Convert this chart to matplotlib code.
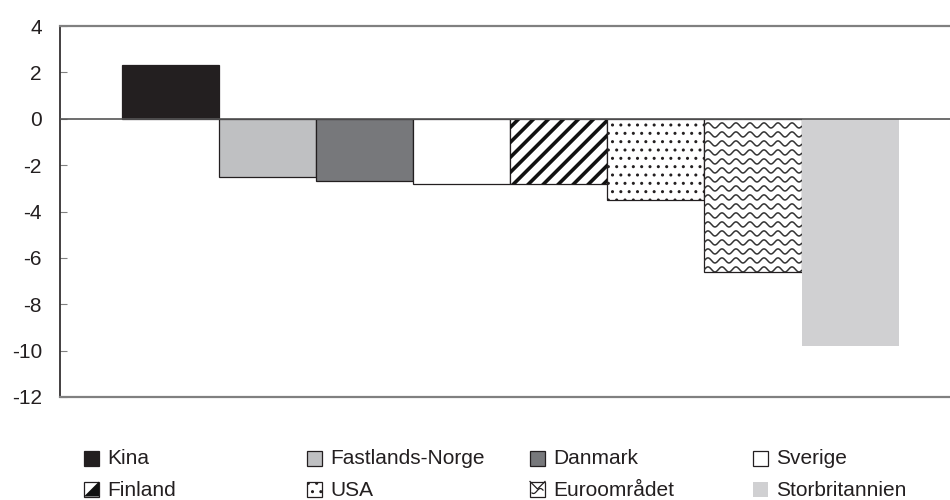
import matplotlib.pyplot as plt
import numpy as np
from matplotlib.patches import Rectangle, Polygon

# data
countries = ['Kina', 'Fastlands-Norge', 'Danmark', 'Sverige',
             'Finland', 'USA', 'Euroområdet', 'Storbritannien']
values = [2.3, -2.5, -2.7, -2.8, -2.8, -3.5, -6.6, -9.8]
yticks = [4, 2, 0, -2, -4, -6, -8, -10, -12]

plt.rcParams['font.family'] = ['Liberation Sans', 'DejaVu Sans']
plt.rcParams['hatch.linewidth'] = 1.0

W, H = 950, 500
edge = '#231f20'
txt = '#231f20'
fills = {
    'Kina': '#231f20',
    'Fastlands-Norge': '#bfc0c2',
    'Danmark': '#77787b',
    'Sverige': 'white',
    'Finland': 'white',
    'USA': 'white',
    'Euroområdet': 'white',
    'Storbritannien': '#d0d0d2',
}
hatches = {'USA': '..'}

fig = plt.figure(figsize=(W / 100, H / 100), dpi=100)
ax = fig.add_axes([60 / W, 1 - 397 / H, 1 - 60 / W, 371 / H])

x = np.arange(len(countries))
bars = []
for i, (name, val) in enumerate(zip(countries, values)):
    ec = 'none' if name == 'Storbritannien' else edge
    b = ax.bar(x[i], val, width=1.0, color=fills[name], edgecolor=ec,
               linewidth=0.9, hatch=hatches.get(name), zorder=2)[0]
    bars.append(b)

ax.set_xlim(-1.14, 8.03)
ax.set_ylim(-12, 4)

# Finland: thick diagonal stripes, clipped to the bar
fin = bars[countries.index('Finland')]
ppx = 97.0          # pixels per x unit
ppy = 371 / 16.0    # pixels per y unit
slope = ppx / ppy
x0 = fin.get_x()
for s in np.arange(-1.2, 1.3, 15 / ppx):
    xs = np.array([x0 + s - 0.2, x0 + s + 1.2])
    ys = values[4] + (xs - (x0 + s)) * slope
    ln, = ax.plot(xs, ys, color='#111111', lw=2.6, zorder=3,
                  solid_capstyle='butt')
    ln.set_clip_path(fin)

# Euroområdet: wavy lines, clipped to the bar
eur = bars[countries.index('Euroområdet')]
xw = np.linspace(eur.get_x(), eur.get_x() + 1.0, 400)
for yb in np.arange(0.1, values[6] - 0.4, -9 / ppy):
    yw = yb + 0.11 * np.sin(2 * np.pi * (xw - eur.get_x()) / (14 / ppx))
    ln, = ax.plot(xw, yw, color='#333333', lw=1.1, zorder=3)
    ln.set_clip_path(eur)

ax.axhline(0, color='#555555', lw=1.2, zorder=4)

for side in ['top', 'bottom']:
    ax.spines[side].set_color('#808080')
    ax.spines[side].set_linewidth(1.6)
ax.spines['right'].set_visible(False)
ax.spines['left'].set_color('#231f20')
ax.spines['left'].set_linewidth(1.2)

ax.set_yticks(yticks)
ax.set_yticklabels([str(t) for t in yticks], fontsize=15, color=txt)
ax.tick_params(axis='y', direction='in', length=5, width=0.8,
               color='#808080', pad=13)
ax.set_xticks([])

# legend, laid out by hand: 4 columns, 2 rows, filled row by row
def fx(px):
    return px / W

def fy(py):
    return 1 - py / H

sq = 15
for i, name in enumerate(countries):
    col, row = i % 4, i // 4
    lx = 84 + 223 * col
    cy = 459 + 31 * row
    ec = 'none' if name == 'Storbritannien' else edge
    fig.add_artist(Rectangle((fx(lx), fy(cy + sq / 2 - 1)), sq / W, sq / H,
                             transform=fig.transFigure, facecolor=fills[name],
                             edgecolor=ec, linewidth=0.9,
                             hatch=hatches.get(name)))
    if name == 'Finland':
        fig.add_artist(Polygon([(fx(lx + sq), fy(cy - sq / 2 - 1)),
                                (fx(lx + sq), fy(cy + sq / 2 - 1)),
                                (fx(lx), fy(cy + sq / 2 - 1)),
                                (fx(lx + 4), fy(cy + sq / 2 - 5)),
                                (fx(lx + sq - 4), fy(cy - sq / 2 + 3))],
                               closed=True, transform=fig.transFigure,
                               facecolor='#111111', edgecolor='none'))
    if name == 'Euroområdet':
        px_ = np.linspace(lx + 2, lx + sq - 2, 30)
        py_ = cy + 1 + 2.5 * np.sin((px_ - lx) / 2.2)
        fig.add_artist(plt.Line2D(fx(px_), fy(py_), transform=fig.transFigure,
                                  color=edge, lw=0.9))
        fig.add_artist(plt.Line2D([fx(lx), fx(lx + sq / 2), fx(lx + sq)],
                                  [fy(cy - sq / 2 - 1), fy(cy - 1),
                                   fy(cy - sq / 2 - 1)],
                                  transform=fig.transFigure, color=edge, lw=0.9))
    fig.text(fx(lx + 23), fy(cy), name, fontsize=15, color=txt,
             ha='left', va='center')

fig.savefig('out.png', dpi=100)
